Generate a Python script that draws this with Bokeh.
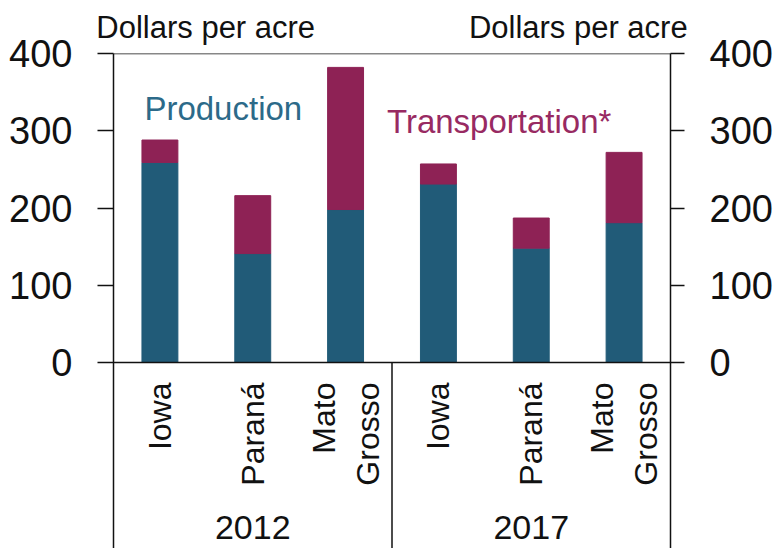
from math import pi
from bokeh.plotting import figure
from bokeh.models import (FactorRange, Range1d, LinearAxis, CategoricalAxis,
                          FixedTicker, Span, Label, ColumnDataSource)
from bokeh.core.properties import value
from bokeh.embed import file_html
from bokeh.resources import INLINE

# ---- data ----
years = ["2012", "2017"]
states = ["Iowa", "Paraná", "Mato\nGrosso"]
production = [259, 141, 198, 231, 148, 181]
transportation = [29, 75, 184, 26, 39, 91]
y_ticks = [0, 100, 200, 300, 400]
unit_label = "Dollars per acre"
series_names = ["Production", "Transportation*"]

factors = [(y, s) for y in years for s in states]

BLUE = "#215b78"
MAGENTA = "#8e2255"
BLUE_TXT = "#2c6a89"
MAG_TXT = "#982a62"
INK = "#111111"
FONT = "Liberation Sans"

W, H = 775, 548
LEFT, RIGHT, TOP = 113, 104, 53
Y_MAX = 400
Y_MIN = Y_MAX - (H - TOP) / 0.7725

p = figure(width=W, height=H,
           x_range=FactorRange(*factors, group_padding=0, factor_padding=0,
                               subgroup_padding=0, range_padding=0),
           y_range=Range1d(Y_MIN, Y_MAX),
           output_backend="svg", toolbar_location=None,
           x_axis_location=None, y_axis_location=None,
           min_border_left=LEFT, min_border_right=RIGHT,
           min_border_top=TOP, min_border_bottom=0)
p.outline_line_color = None
p.background_fill_color = "white"
p.border_fill_color = "white"
for g in p.grid:
    g.visible = False

src = ColumnDataSource(dict(x=factors, production=production,
                            transportation=transportation))
p.vbar_stack(["production", "transportation"], x="x", width=0.387,
             color=[BLUE, MAGENTA], source=src)

# value axes
def make_axis(tick_out):
    return LinearAxis(ticker=FixedTicker(ticks=y_ticks),
                      major_tick_out=tick_out, major_tick_in=0,
                      minor_tick_out=0, minor_tick_in=0,
                      major_label_standoff=25,
                      major_label_text_font=FONT,
                      major_label_text_font_size="38px",
                      major_label_text_color=INK,
                      axis_line_width=1.5, axis_line_color=INK,
                      major_tick_line_width=1.5, major_tick_line_color=INK)

p.add_layout(make_axis(16), "left")
p.add_layout(make_axis(14), "right")

# unit labels above the frame, at the left and right ends
p.extra_x_ranges = {"units": FactorRange(
    factors=[unit_label, unit_label + "\u200b"],
    factor_padding=1.02, range_padding=0)}
top_axis = CategoricalAxis(x_range_name="units",
                           axis_line_color=None, major_tick_line_color=None,
                           minor_tick_line_color=None,
                           major_tick_out=0, major_tick_in=0,
                           major_label_standoff=9,
                           major_label_text_font=FONT,
                           major_label_text_font_size="31px",
                           major_label_text_color=INK)
p.add_layout(top_axis, "above")

for loc in (y_ticks[0], y_ticks[-1]):
    p.add_layout(Span(location=loc, dimension="width", line_color=INK,
                      line_width=1.5))

# group separator below the zero line
p.segment(x0=[(years[1], states[0], -0.5)], y0=[0],
          x1=[(years[1], states[0], -0.5)], y1=[Y_MIN],
          line_color=INK, line_width=1.5)

# category labels
p.text(x=factors, y=-25.9, text=[f[1] for f in factors], angle=pi / 2,
       text_align="right", text_baseline="middle",
       text_font=value(FONT), text_font_size="32px", text_color=INK,
       text_line_height=1.22)
p.text(x=years, y=-214.2, text=years, text_align="center",
       text_baseline="middle", text_font=value(FONT),
       text_font_size="34px", text_color=INK)

# series labels
p.add_layout(Label(x=0.333, y=329.3, text=series_names[0], text_font=FONT,
                   text_font_size="33px", text_color=BLUE_TXT,
                   text_align="left", text_baseline="middle"))
p.add_layout(Label(x=2.946, y=312.5, text=series_names[1], text_font=FONT,
                   text_font_size="33px", text_color=MAG_TXT,
                   text_align="left", text_baseline="middle"))

open("out.html", "w").write(file_html(p, INLINE))
